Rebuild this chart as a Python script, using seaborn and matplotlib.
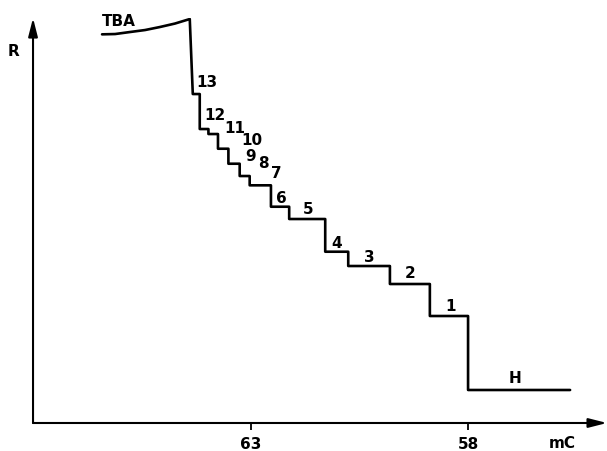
import numpy as np
import pandas as pd
import matplotlib
matplotlib.use("Agg")
import matplotlib.pyplot as plt
import seaborn as sns

# ---- data (R in arbitrary units) ----
tba_mc = [66.43, 66.13, 65.79, 65.44, 65.10, 64.75, 64.41]
tba_r = [38.87, 38.90, 39.10, 39.30, 39.60, 39.95, 40.40]

# plateau edges (mC) and plateau heights (R): steps 13 ... 1, then H
step_edges = [64.34, 64.18, 63.98, 63.76, 63.52, 63.26, 63.03, 62.54,
              62.12, 61.29, 60.76, 59.80, 58.88, 58.00, 55.65]
step_levels = [32.9, 29.4, 28.9, 27.43, 25.93, 24.7, 23.77, 21.63,
               20.4, 17.13, 15.7, 13.9, 10.7, 3.3]

step_labels = ["13", "12", "11", "10", "9", "8", "7", "6", "5", "4", "3", "2", "1", "H", "TBA"]
label_mc = [64.01, 63.83, 63.37, 62.98, 63.00, 62.72, 62.42, 62.29, 61.69,
            61.02, 60.28, 59.34, 58.41, 56.92, 66.05]
label_r = [34.1, 30.8, 29.5, 28.3, 26.7, 26.0, 25.0, 22.5, 21.4,
           18.0, 16.6, 15.0, 11.7, 4.4, 40.2]

x_ticks = [63, 58]
x_ticklabels = ["63", "58"]

# ---- build the curve ----
xs = list(tba_mc)
ys = list(tba_r)
for i, lev in enumerate(step_levels):
    xs += [step_edges[i], step_edges[i + 1]]
    ys += [lev, lev]
df = pd.DataFrame({"mC": xs, "R": ys})

sns.set_style("white")
plt.rcParams["font.family"] = ["DejaVu Sans"]
plt.rcParams["text.color"] = "black"

fig = plt.figure(figsize=(6.07, 4.51), dpi=100)
ax = fig.add_axes([0.0544, 0.0621, 0.9456, 0.8979])

sns.lineplot(data=df, x="mC", y="R", sort=False, estimator=None,
             color="black", lw=1.9, ax=ax)

ax.set_xlim(68.02, 54.8)
ax.set_ylim(0, 40.5)

for s in ax.spines.values():
    s.set_visible(False)

arrow = dict(arrowstyle="-|>,head_length=1.1,head_width=0.28", lw=1.5,
             color="black", shrinkA=0, shrinkB=0, mutation_scale=10)
ax.annotate("", xy=(1, 0), xytext=(0, 0), xycoords="axes fraction",
            textcoords="axes fraction", arrowprops=arrow, annotation_clip=False)
ax.annotate("", xy=(0, 1), xytext=(0, 0), xycoords="axes fraction",
            textcoords="axes fraction", arrowprops=arrow, annotation_clip=False)

ax.set_xticks(x_ticks)
ax.set_xticklabels(x_ticklabels, fontsize=11, fontweight="bold")
ax.set_yticks([])
ax.tick_params(axis="x", bottom=True, direction="out", length=5, width=1.3,
               pad=5, colors="black")
ax.set_xlabel("")
ax.set_ylabel("")

for t, xm, yr in zip(step_labels, label_mc, label_r):
    ax.text(xm, yr, t, ha="center", va="center", fontsize=11,
            fontweight="bold", color="black", clip_on=False)

fig.text(13 / 607, 1 - 52 / 451, "R", ha="center", va="center",
         fontsize=11, fontweight="bold", color="black")
fig.text(562 / 607, 1 - 444 / 451, "mC", ha="center", va="center",
         fontsize=11, fontweight="bold", color="black")

fig.savefig("out.png", dpi=100)
